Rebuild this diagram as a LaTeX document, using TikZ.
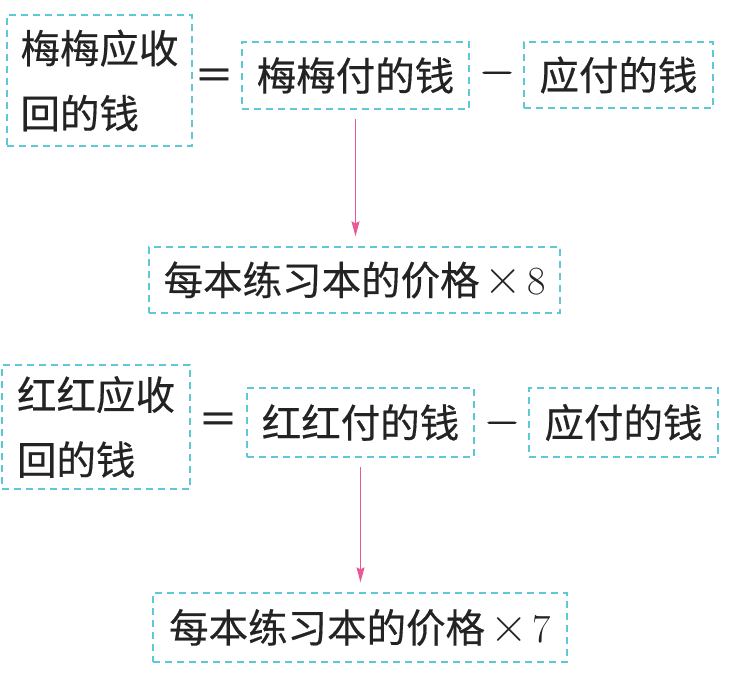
\documentclass[tikz,border=0pt]{standalone}
\usepackage{fontspec}
\newfontfamily\cjk{Noto Sans CJK SC}[FakeBold=0.4]
\newfontfamily\lmsym{Latin Modern Roman}[FakeBold=1.6]
\usetikzlibrary{arrows.meta}
\definecolor{boxcyan}{RGB}{95,200,215}
\definecolor{arrowpink}{RGB}{232,90,150}
\definecolor{ink}{RGB}{35,35,35}
\newcommand{\timesnum}[1]{{\rmfamily\hspace{5pt}{\fontsize{52}{40}\selectfont ×}\hspace{5pt}{\fontsize{40}{40}\selectfont #1}}}
\begin{document}
\begin{tikzpicture}[x=1pt,y=-1pt,
  dbox/.style={draw=boxcyan, dash pattern=on 7pt off 5pt, line width=1.3pt, inner sep=0pt,
    font=\cjk\fontsize{39.5}{65}\selectfont, text=ink},
  sym/.style={font=\cjk\fontsize{39.5}{40}\selectfont, text=ink, inner sep=0pt},
  minus/.style={font=\lmsym\fontsize{45}{45}\selectfont, text=ink, inner sep=0pt, anchor=base},
  arr/.style={draw=arrowpink, line width=1.1pt, -{Stealth[length=15pt,width=8pt,inset=2pt]},
    shorten <=9pt, shorten >=10pt}]
\useasboundingbox (0,0) rectangle (730,684);
% top
\node[dbox, minimum width=185pt, minimum height=131pt, align=left] (a1) at (99.5,80.5) {梅梅应收\\回的钱};
\node[sym] (eq1) at (214,79) {＝};
\node[dbox, minimum width=227pt, minimum height=67pt] (b1) at (355.5,75.5) {梅梅付的钱};
\node[minus] (mi1) at (497,84) {−};
\node[dbox, minimum width=189pt, minimum height=66pt] (c1) at (618.5,75) {应付的钱};
\node[dbox, minimum width=411pt, minimum height=66pt] (d1) at (354.5,280) {每本练习本的价格\timesnum{8}};
\draw[arr] (b1.south) -- (b1.south |- d1.north);
% bottom
\node[dbox, minimum width=188pt, minimum height=124pt, align=left] (a2) at (96,427) {红红应收\\回的钱};
\node[sym] (eq2) at (218,423) {＝};
\node[dbox, minimum width=227pt, minimum height=69pt] (b2) at (360.5,422.5) {红红付的钱};
\node[minus] (mi2) at (502,434) {−};
\node[dbox, minimum width=189pt, minimum height=69pt] (c2) at (623.5,422.5) {应付的钱};
\node[dbox, minimum width=414pt, minimum height=69pt] (d2) at (360,627.5) {每本练习本的价格\timesnum{7}};
\draw[arr] (b2.south) -- (b2.south |- d2.north);
\end{tikzpicture}
\end{document}
